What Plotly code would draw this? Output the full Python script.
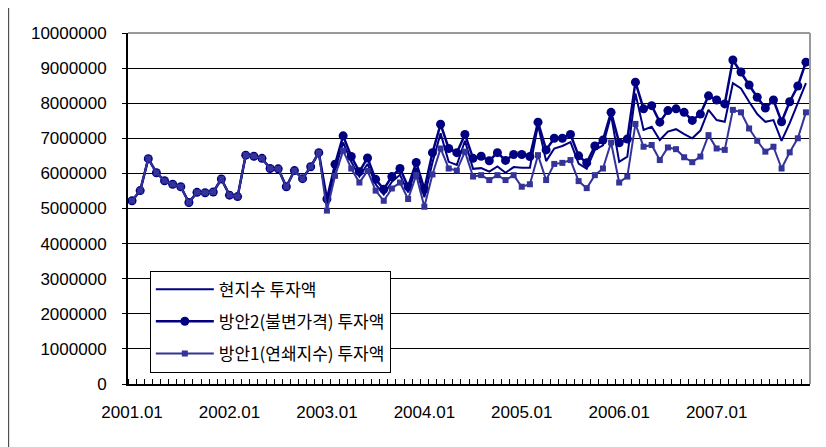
import plotly.graph_objects as go

# 월별 구분 (2001.01 ~ 2007.12)
months = [f"{y}.{m:02d}" for y in range(2001, 2008) for m in range(1, 13)]

# 현지수 투자액
hyunjisu = [
    5220000, 5510000, 6420000, 6020000, 5790000, 5690000, 5620000, 5170000, 5460000, 5450000, 5470000, 5840000,
    5380000, 5340000, 6520000, 6490000, 6430000, 6140000, 6130000, 5620000, 6080000, 5850000, 6190000, 6590000,
    5120000, 6110000, 6880000, 6330000, 5910000, 6270000, 5690000, 5400000, 5760000, 5960000, 5460000, 6150000,
    5320000, 6310000, 7140000, 6330000, 6240000, 6930000, 6130000, 6150000, 6050000, 6200000, 6020000, 6180000,
    6160000, 6160000, 7380000, 6350000, 6710000, 6780000, 6890000, 6280000, 6130000, 6670000, 6800000, 7660000,
    6330000, 6480000, 8280000, 7240000, 7330000, 6950000, 7190000, 7260000, 7120000, 7000000, 7220000, 7810000,
    7520000, 7470000, 8570000, 8420000, 8040000, 7690000, 7470000, 7520000, 6930000, 7430000, 8000000, 8570000,
]

# 방안2(불변가격) 투자액
plan2 = [
    5220000, 5510000, 6420000, 6020000, 5790000, 5690000, 5620000, 5170000, 5460000, 5450000, 5470000, 5840000,
    5380000, 5340000, 6520000, 6490000, 6430000, 6140000, 6130000, 5620000, 6080000, 5850000, 6190000, 6590000,
    5270000, 6260000, 7070000, 6480000, 6050000, 6440000, 5830000, 5550000, 5910000, 6140000, 5620000, 6310000,
    5550000, 6590000, 7400000, 6710000, 6590000, 7110000, 6430000, 6490000, 6360000, 6590000, 6370000, 6540000,
    6540000, 6480000, 7460000, 6670000, 7000000, 7000000, 7110000, 6500000, 6300000, 6780000, 6950000, 7740000,
    6870000, 6980000, 8600000, 7840000, 7930000, 7460000, 7790000, 7840000, 7740000, 7510000, 7690000, 8210000,
    8090000, 7980000, 9230000, 8890000, 8520000, 8170000, 7860000, 8090000, 7470000, 8040000, 8490000, 9170000,
]

# 방안1(연쇄지수) 투자액
plan1 = [
    5220000, 5510000, 6420000, 6020000, 5790000, 5690000, 5620000, 5170000, 5460000, 5450000, 5470000, 5840000,
    5380000, 5340000, 6520000, 6490000, 6430000, 6140000, 6130000, 5620000, 6080000, 5850000, 6190000, 6590000,
    4940000, 5930000, 6650000, 6140000, 5740000, 6070000, 5510000, 5220000, 5570000, 5740000, 5270000, 5950000,
    5050000, 5970000, 6710000, 6140000, 6080000, 6620000, 5910000, 5950000, 5810000, 5950000, 5810000, 5950000,
    5620000, 5690000, 6520000, 5810000, 6270000, 6300000, 6380000, 5780000, 5580000, 5950000, 6140000, 6880000,
    5740000, 5910000, 7410000, 6760000, 6810000, 6380000, 6740000, 6690000, 6460000, 6320000, 6480000, 7090000,
    6710000, 6670000, 7810000, 7740000, 7280000, 6930000, 6620000, 6760000, 6140000, 6600000, 7000000, 7740000,
]

x_idx = list(range(len(months)))
label_vals = x_idx[::12]
label_text = months[::12]

NAVY = "#000080"
BLUE = "#333399"
FONT = "Liberation Sans, Arial, sans-serif"
KFONT = "Noto Sans CJK KR, sans-serif"

fig = go.Figure()
fig.add_trace(go.Scatter(
    x=x_idx, y=hyunjisu, name="현지수 투자액", mode="lines",
    line=dict(color=NAVY, width=2), legendgroup="a",
))
fig.add_trace(go.Scatter(
    x=x_idx, y=plan2, name="방안2(불변가격) 투자액", mode="lines+markers",
    line=dict(color=NAVY, width=2.5),
    marker=dict(symbol="circle", size=9, color=NAVY, line=dict(width=0)),
    legendgroup="b",
))
fig.add_trace(go.Scatter(
    x=x_idx, y=plan1, name="방안1(연쇄지수) 투자액", mode="lines+markers",
    line=dict(color=BLUE, width=2),
    marker=dict(symbol="square", size=6, color=BLUE, line=dict(width=0)),
    legendgroup="c",
))

# 페이지 기본 여백(8px)을 감안한 크기
fig.update_layout(
    width=818, height=439,
    margin=dict(l=120, r=16, t=25, b=63),
    paper_bgcolor="white", plot_bgcolor="white",
    font=dict(family=FONT, size=17, color="black"),
    showlegend=True,
    legend=dict(
        x=0.032, y=0.323, xanchor="left", yanchor="top",
        bgcolor="white", bordercolor="black", borderwidth=1,
        font=dict(family=KFONT, size=17, color="black"),
        tracegroupgap=7, itemwidth=58,
    ),
)

fig.update_xaxes(
    range=[-0.5, len(months) - 0.5],
    tickmode="array", tickvals=label_vals, ticktext=label_text,
    ticks="", showgrid=False, zeroline=False,
    showline=True, linecolor="black", linewidth=2,
    tickfont=dict(family=FONT, size=17), ticklabelstandoff=12,
    minor=dict(ticks="inside", tick0=-0.5, dtick=1, ticklen=5, tickcolor="black", tickwidth=1, showgrid=False),
)
fig.update_yaxes(
    range=[0, 10000000], dtick=1000000, tickformat="d",
    ticks="outside", ticklen=4, tickcolor="black", tickwidth=1,
    showgrid=True, gridcolor="black", gridwidth=1, zeroline=False,
    showline=True, linecolor="black", linewidth=2,
    tickfont=dict(family=FONT, size=17), ticklabelstandoff=12,
)

# 그림 영역 위/오른쪽 테두리 (회색)
fig.add_shape(type="line", xref="paper", yref="paper", x0=0, x1=1, y0=1, y1=1,
              line=dict(color="#999999", width=2))
fig.add_shape(type="line", xref="paper", yref="paper", x0=1, x1=1, y0=0, y1=1,
              line=dict(color="#999999", width=2))
# 차트 바깥 테두리
fig.add_shape(type="line", xref="paper", yref="paper", x0=-0.175, x1=-0.175, y0=-0.2, y1=1.2,
              line=dict(color="#333333", width=1))
fig.add_shape(type="line", xref="paper", yref="paper", x0=1.016, x1=1.016, y0=-0.2, y1=1.2,
              line=dict(color="#999999", width=1))

fig.write_html("out.html")
